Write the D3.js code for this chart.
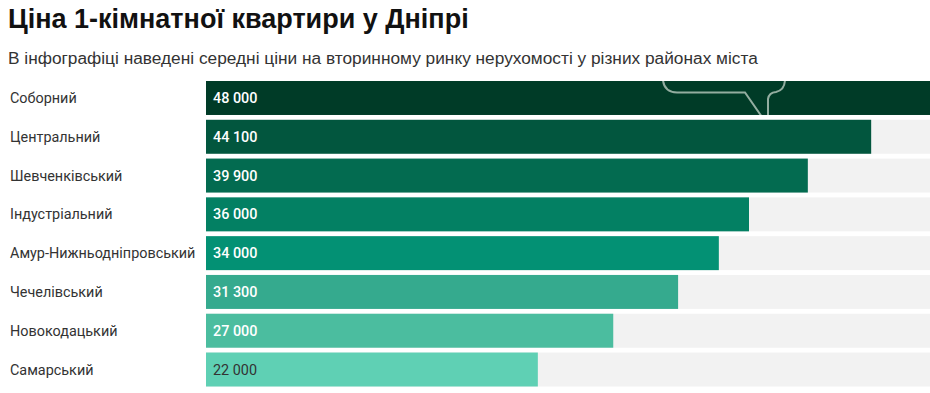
<!DOCTYPE html>
<html>
<head>
<meta charset="utf-8">
<script src="https://cdn.jsdelivr.net/npm/d3@7"></script>
<style>
  body { margin: 0; background: #fff; font-family: Roboto, "Noto Sans", sans-serif; }
</style>
</head>
<body>
<svg width="930" height="393"></svg>
<script>
// data
var districts = ["Соборний", "Центральний", "Шевченківський", "Індустріальний",
                 "Амур-Нижньодніпровський", "Чечелівський", "Новокодацький", "Самарський"];
var prices = [48000, 44100, 39900, 36000, 34000, 31300, 27000, 22000];
var barColors = ["#003b27", "#02563e", "#036b50", "#038063", "#039174", "#35aa8e", "#4bbd9f", "#5fd0b4"];

var svg = d3.select("svg"),
    width = +svg.attr("width");

// title + subtitle
svg.append("text")
    .attr("x", 8).attr("y", 28)
    .attr("font-family", "'Liberation Sans', Arial, sans-serif")
    .attr("font-size", 27).attr("font-weight", "bold").attr("fill", "#111")
    .text("Ціна 1-кімнатної квартири у Дніпрі");

svg.append("text")
    .attr("x", 8).attr("y", 64)
    .attr("font-family", "'Liberation Sans', Arial, sans-serif")
    .attr("font-size", 17.3).attr("fill", "#333")
    .text("В інфографіці наведені середні ціни на вторинному ринку нерухомості у різних районах міста");

var x = d3.scaleLinear().domain([0, 48000]).range([206, 930]);
var y = d3.scaleBand().domain(districts).range([81, 386.5]).paddingInner(0.124).paddingOuter(0);

var row = svg.append("g").selectAll("g")
    .data(districts)
    .enter().append("g");

// grey track
row.append("rect")
    .attr("x", x(0))
    .attr("y", function(d) { return y(d); })
    .attr("width", x.range()[1] - x(0))
    .attr("height", y.bandwidth())
    .attr("fill", "#f2f2f2");

// bars
row.append("rect")
    .attr("x", x(0))
    .attr("y", function(d) { return y(d); })
    .attr("width", function(d, i) { return x(prices[i]) - x(0); })
    .attr("height", y.bandwidth())
    .attr("fill", function(d, i) { return barColors[i]; });

// district names
row.append("text")
    .attr("x", 10)
    .attr("y", function(d) { return y(d) + y.bandwidth() / 2; })
    .attr("dy", "0.35em")
    .attr("font-size", 14.4).attr("fill", "#333")
    .text(function(d) { return d; });

// values
var fmt = function(v) { return d3.format(",")(v).replace(/,/g, " "); };
row.append("text")
    .attr("x", x(0) + 7)
    .attr("y", function(d) { return y(d) + y.bandwidth() / 2; })
    .attr("dy", "0.35em")
    .attr("font-size", 14.4)
    .attr("font-weight", function(d, i) { return i < districts.length - 1 ? 500 : 400; })
    .attr("fill", function(d, i) { return i < districts.length - 1 ? "#fff" : "#333"; })
    .text(function(d, i) { return fmt(prices[i]); });

// speech bubble decoration, clipped to top bar
var top0 = y(districts[0]);
svg.append("clipPath").attr("id", "topbar")
  .append("rect")
    .attr("x", x(0)).attr("y", top0)
    .attr("width", x(prices[0]) - x(0)).attr("height", y.bandwidth());

var b = d3.path();
b.moveTo(663, top0 - 20);
b.lineTo(663, top0 - 1);
b.quadraticCurveTo(664, top0 + 11, 677, top0 + 11.5);
b.lineTo(745, top0 + 11.5);
b.lineTo(762, top0 + 36);
b.moveTo(768, top0 + 36);
b.lineTo(768, top0 + 18);
b.quadraticCurveTo(769, top0 + 11.5, 776, top0 + 11);
b.quadraticCurveTo(785, top0 + 9, 785, top0 - 2);
b.lineTo(785, top0 - 20);

svg.append("path")
    .attr("clip-path", "url(#topbar)")
    .attr("d", b.toString())
    .attr("fill", "none")
    .attr("stroke", "#93ada0")
    .attr("stroke-width", 2);
</script>
</body>
</html>
